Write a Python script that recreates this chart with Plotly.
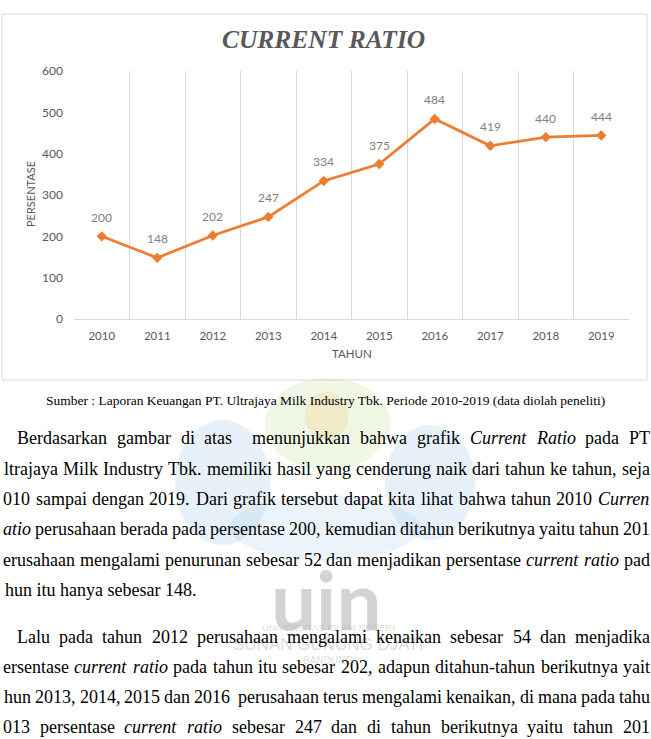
import plotly.graph_objects as go

W, H = 651, 739

# ---------------- data ----------------
years = ["2010", "2011", "2012", "2013", "2014", "2015", "2016", "2017", "2018", "2019"]
current_ratio = [200, 148, 202, 247, 334, 375, 484, 419, 440, 444]
y_ticks = [0, 100, 200, 300, 400, 500, 600]

chart_title = "CURRENT RATIO"
y_title = "PERSENTASE"
x_title = "TAHUN"
caption = "Sumber : Laporan Keuangan PT. Ultrajaya Milk Industry Tbk. Periode 2010-2019 (data diolah peneliti)"

# paragraph lines as they appear (cropped page); *word* = italic
para_lines = [
    "Berdasarkan gambar di atas  menunjukkan bahwa grafik *Current* *Ratio* pada PT",
    "ltrajaya Milk Industry Tbk. memiliki hasil yang cenderung naik dari tahun ke tahun, seja",
    "010 sampai dengan 2019. Dari grafik tersebut dapat kita lihat bahwa tahun 2010 *Curren*",
    "*atio* perusahaan berada pada persentase 200, kemudian ditahun berikutnya yaitu tahun 201",
    "erusahaan mengalami penurunan sebesar 52 dan menjadikan persentase *current* *ratio* pad",
    "hun itu hanya sebesar 148.",
    "Lalu pada tahun 2012 perusahaan mengalami kenaikan sebesar 54 dan menjadika",
    "ersentase *current* *ratio* pada tahun itu sebesar 202, adapun ditahun-tahun berikutnya yait",
    "hun 2013, 2014, 2015 dan 2016  perusahaan terus mengalami kenaikan, di mana pada tahu",
    "013 persentase *current* *ratio* sebesar 247 dan di tahun berikutnya yaitu tahun 201",
]
watermark_logo = "uin"
watermark_lines = ["UNIVERSITAS ISLAM NEGERI", "SUNAN GUNUNG DJATI", "BANDUNG"]

# ---------------- layout geometry (pixels) ----------------
PL, PR, PT, PB = 74, 629, 71, 319
line_y = [438, 469, 499, 529, 560, 590, 637, 667, 697, 727]
line_x0 = [15, 2, 1, 1, 1, 3, 15, 1, 2, 1]
line_x1 = [648, 648, 648, 648, 648, None, 648, 648, 648, 648]
PFONT = 18

def fx(px):
    return px / W

def fy(py):
    return 1 - py / H

# Times metrics (1/1000 em)
ROMAN = dict(zip("abcdefghijklmnopqrstuvwxyz",
                 [444, 500, 444, 500, 444, 333, 500, 500, 278, 278, 500, 278, 778, 500, 500, 500, 500, 333, 389, 278, 500, 500, 722, 500, 500, 444]))
ROMAN.update(dict(zip("ABCDEFGHIJKLMNOPQRSTUVWXYZ",
                      [722, 667, 667, 722, 611, 556, 722, 722, 333, 389, 722, 611, 889, 722, 722, 556, 722, 667, 556, 611, 722, 722, 944, 722, 722, 611])))
ROMAN.update({c: 500 for c in "0123456789"})
ROMAN.update({" ": 250, ",": 250, ".": 250, "-": 333, ":": 278, "(": 333, ")": 333})
ITALIC = dict(ROMAN)
ITALIC.update({"a": 500, "r": 389, "C": 667, "R": 611})

def word_width(w, italic):
    table = ITALIC if italic else ROMAN
    return sum(table.get(c, 500) for c in w) * PFONT / 1000.0

annotations = []

# watermark logo letters (drawn first so text sits on top)
annotations.append(dict(x=fx(326), y=fy(599), xref="paper", yref="paper", text=f"<b>{watermark_logo}</b>",
                        showarrow=False, xanchor="center", yanchor="middle",
                        font=dict(family="Lato, Open Sans, sans-serif", size=80, color="rgba(150,150,150,0.42)")))
wm_y = [627, 644, 660]
wm_s = [9.5, 17, 10]
for t, yy, s in zip(watermark_lines, wm_y, wm_s):
    annotations.append(dict(x=fx(328), y=fy(yy), xref="paper", yref="paper", text=t,
                            showarrow=False, xanchor="center", yanchor="middle",
                            font=dict(family="Liberation Sans, Arial, sans-serif", size=s, color="rgba(150,150,150,0.35)")))

# paragraph words (justified)
for text, yy, x0, x1 in zip(para_lines, line_y, line_x0, line_x1):
    font = dict(family="Liberation Serif, Times New Roman, serif", size=PFONT, color="#000000")
    if x1 is None:
        annotations.append(dict(x=fx(x0), y=fy(yy), xref="paper", yref="paper", text=text,
                                showarrow=False, xanchor="left", yanchor="middle", font=font))
        continue
    parts = text.split(" ")
    words, gaps_before = [], []
    gap = 0
    for p in parts:
        if p == "":
            gap += 1
            continue
        words.append(p)
        gaps_before.append(gap + 1 if words[:-1] else 0)
        gap = 0
    info = []
    for w in words:
        it = w.startswith("*") and w.endswith("*")
        ww = w.strip("*")
        info.append((ww, it, word_width(ww, it)))
    total_w = sum(i[2] for i in info)
    units = sum(gaps_before)
    g = (x1 - x0 - total_w) / units if units else 0
    xpos = x0
    for (ww, it, wwid), gb in zip(info, gaps_before):
        xpos += gb * g
        annotations.append(dict(x=fx(xpos), y=fy(yy), xref="paper", yref="paper",
                                text=f"<i>{ww}</i>" if it else ww,
                                showarrow=False, xanchor="left", yanchor="middle", font=font))
        xpos += wwid

# caption
annotations.append(dict(x=fx(325), y=fy(400), xref="paper", yref="paper", text=caption,
                        showarrow=False, xanchor="center", yanchor="middle",
                        font=dict(family="Liberation Serif, Times New Roman, serif", size=13.5, color="#000000")))

# axis titles
annotations.append(dict(x=fx(30), y=fy(194), xref="paper", yref="paper", text=y_title, textangle=-90,
                        showarrow=False, xanchor="center", yanchor="middle",
                        font=dict(family="Lato, Open Sans, sans-serif", size=11, color="#595959")))
annotations.append(dict(x=fx(352), y=fy(354), xref="paper", yref="paper", text=x_title,
                        showarrow=False, xanchor="center", yanchor="middle",
                        font=dict(family="Lato, Open Sans, sans-serif", size=11.5, color="#595959")))

# data labels (category index positions)
for i, v in enumerate(current_ratio):
    annotations.append(dict(x=i, y=v, xref="x", yref="y", text=str(v), showarrow=False,
                            yshift=19, xanchor="center", yanchor="middle",
                            font=dict(family="Lato, Open Sans, sans-serif", size=12, color="#7f7f7f")))

shapes = []
# chart frame
shapes.append(dict(type="rect", xref="paper", yref="paper", x0=fx(2), x1=fx(647), y0=fy(380), y1=fy(14),
                   line=dict(color="#d9d9d9", width=1), fillcolor="rgba(0,0,0,0)", layer="below"))
# faint watermark petals
petals = [
    (175, 420, 270, 545, "rgba(120,180,225,0.18)"),
    (385, 425, 475, 540, "rgba(120,180,225,0.18)"),
    (265, 378, 390, 470, "rgba(170,210,110,0.18)"),
    (230, 495, 420, 560, "rgba(120,180,225,0.14)"),
    (305, 392, 348, 440, "rgba(245,200,120,0.28)"),
]
for x0, y0, x1, y1, c in petals:
    shapes.append(dict(type="circle", xref="paper", yref="paper", x0=fx(x0), x1=fx(x1), y0=fy(y1), y1=fy(y0),
                       line=dict(width=0), fillcolor=c, layer="below"))

fig = go.Figure()
fig.add_trace(go.Scatter(
    x=years, y=current_ratio, mode="lines+markers",
    line=dict(color="#ED7D31", width=2.75),
    marker=dict(symbol="diamond", size=8, color="#ED7D31"),
    hoverinfo="skip", showlegend=False,
))

fig.update_layout(
    width=W, height=H,
    margin=dict(l=0, r=0, t=0, b=0, autoexpand=False),
    paper_bgcolor="white", plot_bgcolor="white",
    title=dict(text=f"<b><i>{chart_title}</i></b>", x=0.497, xanchor="center", xref="paper",
               y=fy(39), yref="container", yanchor="middle",
               font=dict(family="Liberation Serif, Times New Roman, serif", size=25.5, color="#595959")),
    xaxis=dict(domain=[fx(PL), fx(PR)], type="category", categoryorder="array", categoryarray=years,
               range=[-0.5, len(years) - 0.5], tickson="boundaries", automargin=False,
               showgrid=True, gridcolor="#d9d9d9", gridwidth=1,
               showline=True, linecolor="#d9d9d9", linewidth=1, ticks="",
               tickfont=dict(family="Lato, Open Sans, sans-serif", size=11.5, color="#595959"),
               tickangle=0, ticklabelstandoff=6, fixedrange=True),
    yaxis=dict(domain=[fy(PB), fy(PT)], range=[0, 600], tickvals=y_ticks, automargin=False,
               showgrid=False, zeroline=False, showline=False, ticks="",
               tickfont=dict(family="Lato, Open Sans, sans-serif", size=12, color="#595959"),
               ticklabelstandoff=10, fixedrange=True),
    annotations=annotations,
    shapes=shapes,
)

fig.write_html("out.html", config={"displayModeBar": False})
